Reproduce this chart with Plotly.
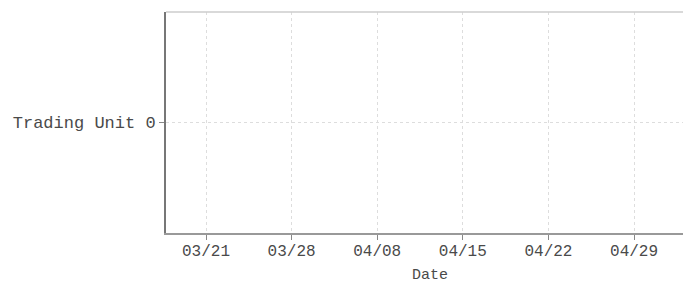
import plotly.graph_objects as go

# Trading days (2024, exchange calendar) shown on the category x-axis
dates = ["03/19", "03/20", "03/21", "03/22", "03/25", "03/26", "03/27", "03/28",
         "03/29", "04/01", "04/02", "04/03", "04/08", "04/09", "04/10", "04/11",
         "04/12", "04/15", "04/16", "04/17", "04/18", "04/19", "04/22", "04/23",
         "04/24", "04/25", "04/26", "04/29", "04/30", "05/06"]
units = ["Trading Unit 0"]
tick_dates = ["03/21", "03/28", "04/08", "04/15", "04/22", "04/29"]

FONT = "Liberation Mono, Courier New, monospace"
TXT = "#4a4a4a"

fig = go.Figure()
fig.add_trace(go.Scatter(
    x=dates,
    y=[units[0]] * len(dates),
    mode="markers",
    marker=dict(opacity=0, size=1),
    hoverinfo="skip",
    showlegend=False,
))

fig.update_layout(
    width=683, height=285,
    margin=dict(l=166, r=0, t=12, b=52),
    paper_bgcolor="white", plot_bgcolor="white",
    font=dict(family=FONT, size=17, color=TXT),
    xaxis=dict(
        type="category",
        categoryorder="array", categoryarray=dates,
        range=[-0.336, 29.86],
        tickmode="array", tickvals=tick_dates, ticktext=tick_dates,
        showgrid=True, gridcolor="#dddddd", griddash="3px,3px", gridwidth=1,
        showline=True, linecolor="#999999", linewidth=1.5,
        ticks="outside", ticklen=5, tickcolor="#888888", tickwidth=1,
        ticklabelstandoff=-3,
        tickfont=dict(family=FONT, size=16, color=TXT),
        zeroline=False,
    ),
    yaxis=dict(
        type="category",
        categoryarray=units,
        showgrid=True, gridcolor="#dddddd", griddash="3px,3px", gridwidth=1,
        showline=True, linecolor="#777777", linewidth=2,
        ticks="outside", ticklen=5, tickcolor="#888888", tickwidth=1,
        ticklabelstandoff=0,
        tickfont=dict(family=FONT, size=17, color=TXT),
        zeroline=False,
    ),
    shapes=[dict(type="line", xref="paper", yref="paper", x0=0, x1=1, y0=1, y1=1,
                 line=dict(color="#cccccc", width=1.5))],
    annotations=[dict(text="Date", xref="paper", yref="paper", x=0.51, y=0,
                      yshift=-42, showarrow=False, xanchor="center", yanchor="middle",
                      font=dict(family=FONT, size=15, color=TXT))],
)

fig.write_html("out.html",
               config={"displayModeBar": False, "staticPlot": True},
               post_script="document.body.style.margin='0';document.body.style.overflow='hidden';")
